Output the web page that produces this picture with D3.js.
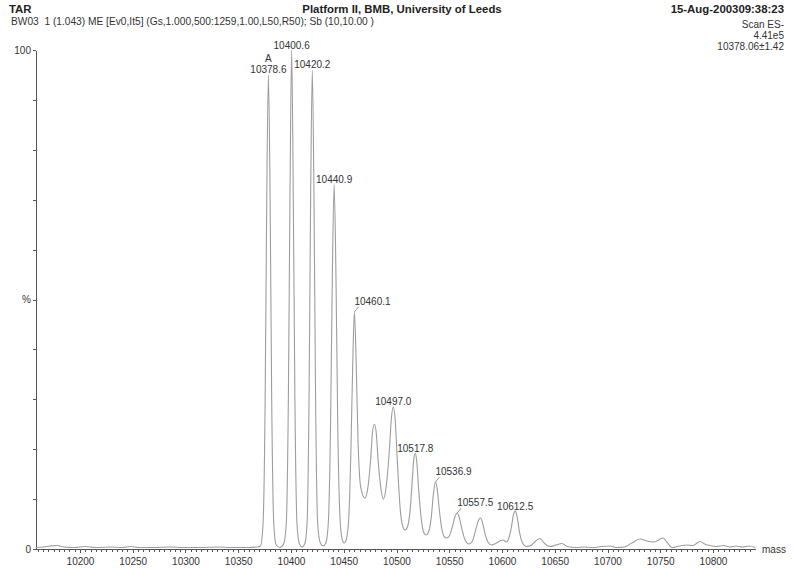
<!DOCTYPE html>
<html>
<head>
<meta charset="utf-8">
<script src="https://cdn.jsdelivr.net/npm/d3@7"></script>
<style>
  body { margin: 0; background: #fff; }
  svg { font-family: "Liberation Sans", Arial, sans-serif; }
  .axis path, .axis line { stroke: #555; shape-rendering: crispEdges; }
  .axis text { fill: #333; font-size: 10px; }
  .trace { fill: none; stroke: #9d9d9d; stroke-width: 1.1; }
  .plabel { font-size: 10px; fill: #333; }
</style>
</head>
<body>
<div id="chart"></div>
<script>
// spectrum profile: [mass, % of base peak]
var profile = [
  [10158, 0.3], [10165, 0.4], [10172, 0.6], [10178, 0.7], [10185, 0.4], [10195, 0.3],
  [10205, 0.5], [10215, 0.3], [10230, 0.4], [10240, 0.3], [10248, 0.5], [10256, 0.3],
  [10270, 0.3], [10285, 0.4], [10300, 0.3], [10315, 0.3], [10330, 0.4], [10345, 0.3],
  [10360, 0.3], [10368, 0.4],
  [10371, 0.6], [10373.5, 5], [10375.5, 30], [10377, 70], [10378.6, 95], [10380.2, 70],
  [10381.7, 30], [10383.7, 5], [10386, 0.8], [10389.5, 0.3],
  [10393, 1], [10395.5, 5], [10397.5, 30], [10399, 70], [10400.6, 100], [10402.2, 70],
  [10403.7, 30], [10405.7, 5], [10408, 1], [10410.5, 0.4],
  [10413, 1], [10415.2, 5], [10417.1, 30], [10418.6, 70], [10420.2, 96], [10421.8, 70],
  [10423.3, 30], [10425.3, 5], [10427.8, 1.2], [10430.5, 0.6],
  [10433, 1.2], [10435.3, 5], [10437.5, 25], [10439.2, 55], [10440.9, 73], [10442.6, 55],
  [10444.3, 25], [10446.5, 6], [10448.5, 2], [10450.5, 1.2],
  [10452.5, 2], [10454.7, 6], [10456.8, 20], [10458.5, 37], [10460.1, 47.5], [10461.7, 38],
  [10463.5, 22], [10466, 12.5], [10470, 10.2],
  [10473, 12.5], [10475.5, 18], [10477.3, 23.5], [10479, 25], [10480.7, 23.5],
  [10482.5, 18], [10485, 12.5], [10487.5, 10],
  [10490.5, 13], [10493.3, 20], [10495.3, 26.5], [10497, 28.5], [10498.7, 26],
  [10500.7, 18], [10503.5, 8], [10506, 4.5], [10508, 3.8],
  [10510.5, 4.5], [10513, 8], [10515, 14], [10516.4, 18], [10517.8, 19.2], [10519.2, 17.5],
  [10521, 12], [10523.5, 6], [10526, 3.2], [10528, 2.8],
  [10530.5, 3.5], [10533, 6.5], [10535, 11], [10536.9, 13.4], [10538.6, 12],
  [10540.5, 8], [10543, 4], [10545.5, 2.4], [10547.6, 2.2],
  [10550, 2.6], [10553, 4.5], [10555.5, 6.5], [10557.5, 7.2], [10559.5, 6.3],
  [10562, 4], [10565, 1.8], [10568.7, 1],
  [10572, 1.6], [10575, 3.8], [10577.5, 5.6], [10579.5, 6.2], [10581.5, 5.3],
  [10584, 3], [10587, 1.3], [10590, 0.8],
  [10594, 1.1], [10598, 1.6], [10601, 1.8], [10604, 1.4],
  [10606.5, 2.2], [10609, 4.5], [10611, 7], [10612.5, 7.6], [10614, 6.8],
  [10616.5, 3.5], [10619.5, 1.2], [10623.4, 0.5],
  [10628, 0.8], [10632, 1.6], [10636, 2.1], [10640, 1.2], [10645.5, 0.5],
  [10651, 0.8], [10656.6, 1.1], [10662, 0.5], [10670, 0.3],
  [10678, 0.4], [10686, 0.3], [10694, 0.5], [10702.4, 0.6], [10708, 0.3], [10716, 0.4],
  [10723, 1.2], [10730.8, 2], [10737, 1.6], [10744, 1.4], [10752.6, 2.2], [10757, 1.2],
  [10761.1, 0.3], [10768, 0.6], [10775.4, 0.8], [10781, 0.7], [10787.7, 1.5], [10793, 0.9],
  [10797.2, 0.7], [10803, 0.5], [10810, 0.7], [10816, 0.4], [10822, 0.6], [10828, 0.4],
  [10834, 0.6], [10840, 0.3]
];

// labelled peaks (mass as printed)
var peakLabels = ['10378.6', '10400.6', '10420.2', '10440.9', '10460.1', '10497.0',
                  '10517.8', '10536.9', '10557.5', '10612.5'];
var sideLabels = ['10460.1', '10536.9', '10557.5']; // printed beside the peak with a tick
var xTicks = [10200, 10250, 10300, 10350, 10400, 10450, 10500, 10550, 10600, 10650, 10700, 10750, 10800];
var yTicks = [0, 10, 20, 30, 40, 50, 60, 70, 80, 90, 100];

var headerLeft = 'TAR';
var headerCenter = 'Platform II, BMB, University of Leeds';
var headerRight = '15-Aug-200309:38:23';
var runInfo = 'BW03  1 (1.043) ME [Ev0,It5] (Gs,1.000,500:1259,1.00,L50,R50); Sb (10,10.00 )';
var scanInfo = ['Scan ES-', '4.41e5', '10378.06\u00b11.42'];

var W = 794, H = 568;
var xScale = d3.scaleLinear().domain([10158.3, 10839.8]).range([36, 755]),
    yScale = d3.scaleLinear().domain([0, 100]).range([549, 50]);

var svg = d3.select('#chart').append('svg')
    .attr('width', W)
    .attr('height', H);

// header
svg.append('text').attr('x', 9).attr('y', 13)
    .style('font-size', '11.4px').style('font-weight', 'bold').attr('fill', '#222')
    .text(headerLeft);
svg.append('text').attr('x', 402).attr('y', 13).attr('text-anchor', 'middle')
    .style('font-size', '11.4px').style('font-weight', 'bold').attr('fill', '#222')
    .text(headerCenter);
svg.append('text').attr('x', 784).attr('y', 13).attr('text-anchor', 'end')
    .style('font-size', '11.4px').style('font-weight', 'bold').attr('fill', '#222')
    .text(headerRight);
svg.append('text').attr('x', 11).attr('y', 25)
    .style('font-size', '10.2px').style('white-space', 'pre').attr('fill', '#333')
    .text(runInfo);
svg.selectAll('.scan')
    .data(scanInfo)
    .enter().append('text')
    .attr('class', 'scan')
    .attr('x', 784)
    .attr('y', function(d, i) { return 28 + i * 11; })
    .attr('text-anchor', 'end')
    .style('font-size', '10px').attr('fill', '#333')
    .text(function(d) { return d; });

// axes
var minor = d3.range(10160, 10840, 5);
svg.append('g')
    .attr('class', 'axis axis--xminor')
    .attr('transform', 'translate(0,' + yScale(0) + ')')
    .call(d3.axisBottom(xScale).tickValues(minor).tickSize(2.5).tickSizeOuter(0).tickFormat(''))
    .select('.domain').remove();

svg.append('g')
    .attr('class', 'axis axis--x')
    .attr('transform', 'translate(0,' + yScale(0) + ')')
    .call(d3.axisBottom(xScale).tickValues(xTicks).tickSize(4).tickSizeOuter(0).tickPadding(5)
        .tickFormat(d3.format('d')));

svg.append('g')
    .attr('class', 'axis axis--y')
    .attr('transform', 'translate(' + xScale.range()[0] + ',0)')
    .call(d3.axisLeft(yScale).tickValues(yTicks).tickSize(3).tickSizeOuter(0).tickPadding(2)
        .tickFormat(function(d) { return d === 100 ? '100' : d === 50 ? '%' : d === 0 ? '0' : ''; }));

svg.append('text')
    .attr('x', 762).attr('y', yScale(0) + 4)
    .style('font-size', '10px').attr('fill', '#333')
    .text('mass');

// trace
var line = d3.line()
    .x(function(d) { return xScale(d[0]); })
    .y(function(d) { return yScale(d[1]); })
    .curve(d3.curveMonotoneX);

svg.append('path')
    .datum(profile)
    .attr('class', 'trace')
    .attr('d', line);

// peak labels
function peakHeight(m) {
    var best = profile[0];
    profile.forEach(function(p) { if (Math.abs(p[0] - m) < Math.abs(best[0] - m)) best = p; });
    return best[1];
}

var lab = svg.selectAll('.plab')
    .data(peakLabels)
    .enter().append('g')
    .attr('class', 'plab');

lab.each(function(d) {
    var g = d3.select(this),
        px = xScale(+d),
        py = yScale(peakHeight(+d));
    if (sideLabels.indexOf(d) >= 0) {
        g.append('line')
            .attr('x1', px).attr('y1', py)
            .attr('x2', px + 4).attr('y2', py - 5)
            .attr('stroke', '#9d9d9d');
        g.append('text').attr('class', 'plabel')
            .attr('x', px).attr('y', py - 7)
            .text(d);
    } else {
        g.append('text').attr('class', 'plabel')
            .attr('x', px).attr('y', py - 1.5)
            .attr('text-anchor', 'middle')
            .text(d);
        if (d === '10378.6') {
            g.append('text').attr('class', 'plabel')
                .attr('x', px).attr('y', py - 13)
                .attr('text-anchor', 'middle')
                .text('A');
        }
    }
});
</script>
</body>
</html>
